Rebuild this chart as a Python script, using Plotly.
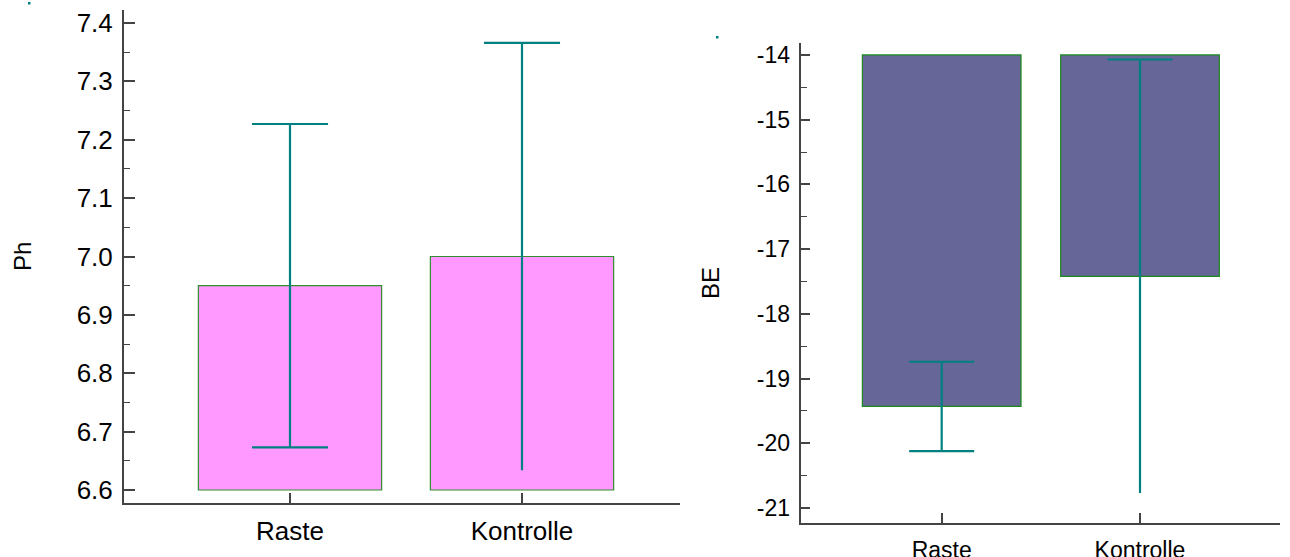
import plotly.graph_objects as go

# ---- data ----
categories = ["Raste", "Kontrolle"]

ph_mean = [6.95, 7.00]
ph_err = [0.277, 0.366]
ph_base = 6.6

be_mean = [-19.43, -17.42]
be_err = [0.69, 3.35]
be_base = -14.0

# lower whisker cap drawn only for these groups
lower_cap = [True, False]

ph_ticks = [6.6, 6.7, 6.8, 6.9, 7.0, 7.1, 7.2, 7.3, 7.4]
be_ticks = [-21, -20, -19, -18, -17, -16, -15, -14]

W, H = 1290, 557
BAR_LINE = "#2f8f2f"
ERR_COLOR = "#008080"
AXIS_COLOR = "#444444"
FONT = "Liberation Sans, Arial, sans-serif"


def px_x(p):
    return p / W


def px_y(p):
    return 1 - p / H


def whiskers(means, errs, half):
    xs, ys = [], []
    for i, (m, e) in enumerate(zip(means, errs)):
        lo, hi = m - e, m + e
        xs += [i, i, None, i - half, i + half, None]
        ys += [lo, hi, None, hi, hi, None]
        if lower_cap[i]:
            xs += [i - half, i + half, None]
            ys += [lo, lo, None]
    return xs, ys


fig = go.Figure()

pos = list(range(len(categories)))

# left panel: pH
fig.add_trace(go.Bar(
    x=pos, y=[m - ph_base for m in ph_mean], base=ph_base, width=0.79,
    marker=dict(color="#ff99ff", line=dict(color=BAR_LINE, width=1.2)),
    xaxis="x", yaxis="y", showlegend=False, hoverinfo="skip",
))
wx, wy = whiskers(ph_mean, ph_err, 0.164)
fig.add_trace(go.Scatter(
    x=wx, y=wy, mode="lines", line=dict(color=ERR_COLOR, width=2.2),
    xaxis="x", yaxis="y", showlegend=False, hoverinfo="skip",
))

# right panel: BE
fig.add_trace(go.Bar(
    x=pos, y=[m - be_base for m in be_mean], base=be_base, width=0.8,
    marker=dict(color="#666699", line=dict(color="#1a8a1a", width=1.2)),
    xaxis="x2", yaxis="y2", showlegend=False, hoverinfo="skip",
))
wx2, wy2 = whiskers(be_mean, be_err, 0.164)
fig.add_trace(go.Scatter(
    x=wx2, y=wy2, mode="lines", line=dict(color=ERR_COLOR, width=2.2),
    xaxis="x2", yaxis="y2", showlegend=False, hoverinfo="skip",
))

axis_common = dict(
    showline=True, linecolor=AXIS_COLOR, linewidth=2,
    ticks="inside", tickcolor=AXIS_COLOR, tickwidth=1.5,
    showgrid=False, zeroline=False, fixedrange=True, automargin=False,
)

fig.update_layout(
    width=W, height=H,
    margin=dict(l=0, r=0, t=0, b=0),
    paper_bgcolor="white", plot_bgcolor="white",
    font=dict(family=FONT, color="black"),
    xaxis=dict(
        **axis_common, domain=[px_x(124), px_x(680)], anchor="y",
        range=[-0.7155, 1.681], tickvals=pos, ticktext=categories,
        ticklen=10, tickfont=dict(size=26), ticklabelstandoff=4,
    ),
    yaxis=dict(
        **axis_common, domain=[px_y(503), px_y(10)], anchor="x",
        range=[6.5777, 7.4223], tickvals=ph_ticks,
        ticktext=[f"{v:.1f}" for v in ph_ticks],
        ticklen=11, tickfont=dict(size=26), ticklabelstandoff=4,
        minor=dict(ticks="inside", dtick=0.05, tick0=6.6, ticklen=6,
                   tickcolor=AXIS_COLOR, tickwidth=1.2),
    ),
    xaxis2=dict(
        **axis_common, domain=[px_x(800.7), px_x(1280)], anchor="y2",
        range=[-0.711, 1.706], tickvals=pos, ticktext=categories,
        ticklen=10, tickfont=dict(size=23), ticklabelstandoff=6,
    ),
    yaxis2=dict(
        **axis_common, domain=[px_y(522.7), px_y(43)], anchor="x2",
        range=[-21.227, -13.815], tickvals=be_ticks,
        ticktext=[str(v) for v in be_ticks],
        ticklen=9, tickfont=dict(size=23), ticklabelstandoff=4,
        minor=dict(ticks="inside", dtick=0.5, tick0=-14, ticklen=6,
                   tickcolor=AXIS_COLOR, tickwidth=1.2),
    ),
    annotations=[
        dict(text="Ph", x=px_x(22), y=px_y(257), xref="paper", yref="paper",
             showarrow=False, textangle=-90, font=dict(size=24),
             xanchor="center", yanchor="middle"),
        dict(text="BE", x=px_x(710), y=px_y(283), xref="paper", yref="paper",
             showarrow=False, textangle=-90, font=dict(size=24),
             xanchor="center", yanchor="middle"),
    ],
    shapes=[
        dict(type="rect", xref="paper", yref="paper",
             x0=px_x(28), x1=px_x(30.5), y0=px_y(4.5), y1=px_y(2),
             fillcolor=ERR_COLOR, line=dict(width=0)),
        dict(type="rect", xref="paper", yref="paper",
             x0=px_x(716), x1=px_x(718.5), y0=px_y(38.5), y1=px_y(36),
             fillcolor=ERR_COLOR, line=dict(width=0)),
    ],
)

fig.write_html("out.html")
